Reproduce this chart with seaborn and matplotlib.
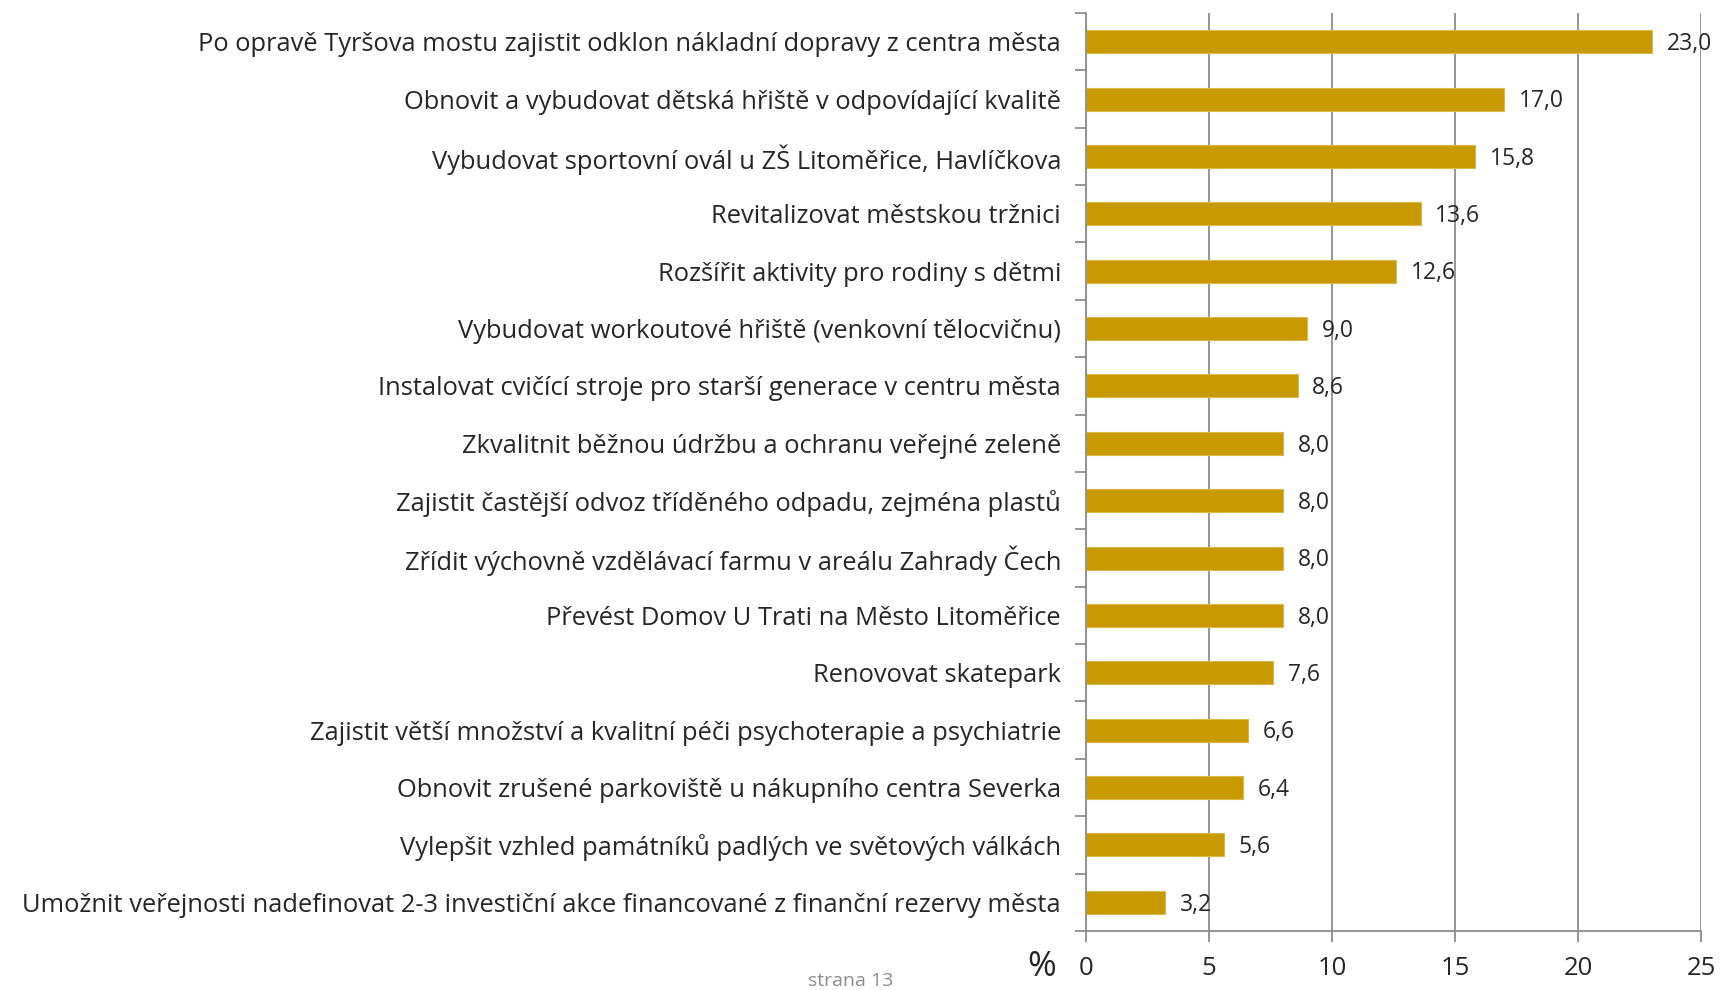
import pandas as pd
import numpy as np
import matplotlib
matplotlib.use("Agg")
import matplotlib.pyplot as plt
import seaborn as sns
from matplotlib.ticker import FixedLocator

# ===============================
# Data
# ===============================
opatreni = [
    "Po opravě Tyršova mostu zajistit odklon nákladní dopravy z centra města",
    "Obnovit a vybudovat dětská hřiště v odpovídající kvalitě",
    "Vybudovat sportovní ovál u ZŠ Litoměřice, Havlíčkova",
    "Revitalizovat městskou tržnici",
    "Rozšířit aktivity pro rodiny s dětmi",
    "Vybudovat workoutové hřiště (venkovní tělocvičnu)",
    "Instalovat cvičící stroje pro starší generace v centru města",
    "Zkvalitnit běžnou údržbu a ochranu veřejné zeleně",
    "Zajistit častější odvoz tříděného odpadu, zejména plastů",
    "Zřídit výchovně vzdělávací farmu v areálu Zahrady Čech",
    "Převést Domov U Trati na Město Litoměřice",
    "Renovovat skatepark",
    "Zajistit větší množství a kvalitní péči psychoterapie a psychiatrie",
    "Obnovit zrušené parkoviště u nákupního centra Severka",
    "Vylepšit vzhled památníků padlých ve světových válkách",
    "Umožnit veřejnosti nadefinovat 2-3 investiční akce financované z finanční rezervy města",
]
procenta = [23.0, 17.0, 15.8, 13.6, 12.6, 9.0, 8.6, 8.0, 8.0, 8.0, 8.0, 7.6, 6.6, 6.4, 5.6, 3.2]
x_ticks = [0, 5, 10, 15, 20, 25]

df = pd.DataFrame({"opatreni": opatreni, "procenta": procenta})

# ===============================
# Plot
# ===============================
sns.set_style("white")
plt.rcParams["font.family"] = ["Open Sans", "DejaVu Sans"]

fig = plt.figure(figsize=(17.2, 9.9), dpi=100)
ax = fig.add_axes([0.6314, 0.0596, 0.3576, 0.9273])

bar_col = "#C89A00"
sns.barplot(data=df, x="procenta", y="opatreni", orient="h", width=0.4,
            color=bar_col, saturation=1, edgecolor="#D9B84A", linewidth=0.8, ax=ax)

ax.set_xlim(0, 25)
ax.set_ylim(len(opatreni) - 0.5, -0.5)
ax.xaxis.set_major_locator(FixedLocator(x_ticks))
ax.xaxis.grid(True, color="#8C8C8C", linewidth=1.3)
ax.set_axisbelow(True)

for s in ["top", "right"]:
    ax.spines[s].set_visible(False)
for s in ["left", "bottom"]:
    ax.spines[s].set_color("#8C8C8C")
    ax.spines[s].set_linewidth(1.3)

# tick marks between categories on the y axis
ax.yaxis.set_minor_locator(FixedLocator(np.arange(-0.5, len(opatreni), 1.0)))
ax.tick_params(axis="y", which="major", length=0, pad=18, labelsize=18.4)
ax.tick_params(axis="y", which="minor", length=8, color="#8C8C8C", width=1.3, left=True)
ax.tick_params(axis="x", which="major", length=8, color="#8C8C8C", width=1.3,
               labelsize=18.5, pad=10, bottom=True)
ax.set_xlabel("")
ax.set_ylabel("")

for i, v in enumerate(procenta):
    ax.text(v + 0.6, i + 0.04, f"{v:.1f}".replace(".", ","), va="center", ha="left", fontsize=16.5)

fig.text(1042 / 1720, 1 - 967 / 990, "%", fontsize=25, ha="center", va="center")
fig.text(851 / 1720, 1 - 981 / 990, "strana 13", fontsize=14, color="#8C8C8C",
         ha="center", va="center")

fig.savefig("out.png", dpi=100)
